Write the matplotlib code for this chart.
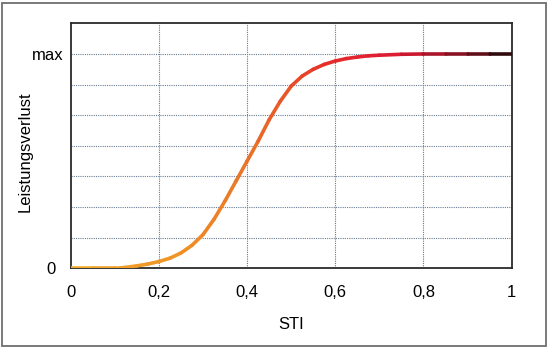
import numpy as np
import matplotlib
matplotlib.use("Agg")
import matplotlib.pyplot as plt
from matplotlib.collections import LineCollection
from matplotlib.colors import LinearSegmentedColormap
from matplotlib.patches import Rectangle
from matplotlib.transforms import ScaledTranslation

plt.rcParams['font.family'] = ['Liberation Sans', 'DejaVu Sans']

# STI vs. Leistungsverlust (in grid units, max = 7)
sti = [0, 0.05, 0.1, 0.125, 0.15, 0.175, 0.2, 0.225, 0.25, 0.275, 0.3, 0.325,
       0.35, 0.375, 0.4, 0.425, 0.45, 0.475, 0.5, 0.525, 0.55, 0.575, 0.6,
       0.625, 0.65, 0.675, 0.7, 0.75, 0.8, 0.85, 0.9, 0.95, 1.0]
verlust = [0, 0, 0, 0.03, 0.08, 0.14, 0.22, 0.33, 0.5, 0.75, 1.1, 1.6,
           2.2, 2.85, 3.5, 4.15, 4.85, 5.45, 5.95, 6.28, 6.5, 6.66, 6.77,
           6.85, 6.9, 6.94, 6.96, 6.99, 7.0, 7.0, 7.0, 7.0, 7.0]
x_ticks = [0, 0.2, 0.4, 0.6, 0.8, 1]
x_ticklabels = ['0', '0,2', '0,4', '0,6', '0,8', '1']
y_ticks = [0, 7]
y_ticklabels = ['0', 'max']

fig = plt.figure(figsize=(5.5, 3.55), dpi=100)
ax = fig.add_axes([0.1285, 0.2442, 0.8018, 0.690])

# outer frame
fig.patches.append(Rectangle((2 / 550, 1 - 346 / 355), 544 / 550, 343 / 355,
                             transform=fig.transFigure, fill=False,
                             edgecolor='#6e6e6e', linewidth=1.3))

# grid
for gx in x_ticks[1:-1]:
    ax.axvline(gx, color='#6f767c', linestyle=(0, (1, 1)), linewidth=0.8, zorder=1)
for gy in range(1, 8):
    ax.axhline(gy, color='#6a7f95', linestyle=(0, (1, 1)), linewidth=0.8, zorder=1)

# curve with colour gradient along STI
pts = np.column_stack([sti, verlust]).reshape(-1, 1, 2)
segs = np.concatenate([pts[:-1], pts[1:]], axis=1)
cmap = LinearSegmentedColormap.from_list('curve', [
    (0.0, '#f2ac2a'), (0.25, '#ef9226'), (0.4, '#ea7428'),
    (0.5, '#e8502a'), (0.6, '#e52a2c'), (0.75, '#dc1a32'),
    (0.88, '#8a1224'), (1.0, '#1a0808')])
mids = (np.array(sti[:-1]) + np.array(sti[1:])) / 2
lc = LineCollection(segs, colors=cmap(mids), linewidth=2.6,
                    capstyle='round', joinstyle='round', zorder=3)
ax.add_collection(lc)

ax.set_xlim(0, 1)
ax.set_ylim(0, 8)
ax.set_xticks(x_ticks)
ax.set_xticklabels(x_ticklabels)
ax.set_yticks(y_ticks)
ax.set_yticklabels(y_ticklabels)
ax.tick_params(axis='both', length=0, labelsize=12)
ax.tick_params(axis='x', pad=12)
ax.tick_params(axis='y', pad=5)
ylabs = ax.get_yticklabels()
ylabs[0].set_transform(ylabs[0].get_transform() +
                       ScaledTranslation(-8 / 100, 0, fig.dpi_scale_trans))

for sp in ax.spines.values():
    sp.set_color('#2a2a2a')
    sp.set_linewidth(1.3)

ax.set_xlabel('STI', fontsize=12)
ax.set_ylabel('Leistungsverlust', fontsize=12)
ax.xaxis.set_label_coords(0.5, -0.2)
ax.yaxis.set_label_coords(-0.087, 0.475)

fig.savefig('out.png', dpi=100)
